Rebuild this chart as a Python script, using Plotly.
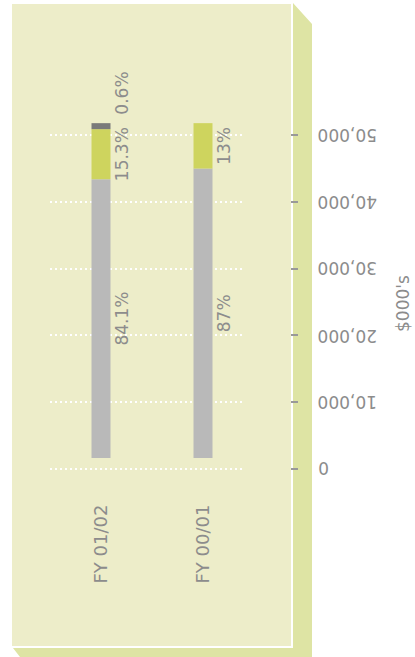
import plotly.graph_objects as go

# ---- data ----
categories = ["FY 01/02", "FY 00/01"]
baseline = 1600                      # bars start slightly above zero
other_vals = [41800, 43400]          # grey segment ($000)
green_vals = [7500, 6800]            # green segment ($000)
dark_vals = [900, 0]                 # dark segment ($000)
other_pct = ["84.1%", "87%"]
green_pct = ["15.3%", "13%"]
dark_pct = ["0.6%", ""]
tick_vals = [0, 10000, 20000, 30000, 40000, 50000]
tick_text = ["0", "10,000", "20,000", "30,000", "40,000", "50,000"]
axis_title = "$000's"

# ---- styling ----
W, H = 415, 657
L, R, T, B = 50, 290, 55, 482
PX_PER_UNIT = 333.5 / 50000.0
y0 = -2000
y1 = y0 + (B - T) / PX_PER_UNIT
FONT = "DejaVu Sans"
FS = 17
TXT = "#8c8c8c"
GREY = "#b9b9b9"
GREEN = "#ced45e"
DARK = "#7a7a7a"
PANEL = "#ededc9"
SHADOW = "#dee4a4"

def px(x):
    return (x - L) / (R - L)

def py(y):
    return (B - y) / (B - T)

bases_other = [baseline] * len(categories)
bases_green = [b + o for b, o in zip(bases_other, other_vals)]
bases_dark = [b + g for b, g in zip(bases_green, green_vals)]

fig = go.Figure()
bw = 19 / 102.0
fig.add_trace(go.Bar(x=categories, y=other_vals, base=bases_other, marker_color=GREY,
                     width=bw, marker_line_width=0, hoverinfo="skip"))
fig.add_trace(go.Bar(x=categories, y=green_vals, base=bases_green, marker_color=GREEN,
                     width=bw, marker_line_width=0, hoverinfo="skip"))
fig.add_trace(go.Bar(x=categories, y=dark_vals, base=bases_dark, marker_color=DARK,
                     width=bw, marker_line_width=0, hoverinfo="skip"))

font = dict(family=FONT, size=FS, color=TXT)
annotations = []
for i, c in enumerate(categories):
    annotations.append(dict(x=c, y=bases_other[i] + other_vals[i] / 2, text=other_pct[i],
                            textangle=-90, showarrow=False, xshift=21, font=font))
    annotations.append(dict(x=c, y=bases_green[i] + green_vals[i] / 2, text=green_pct[i],
                            textangle=-90, showarrow=False, xshift=21, font=font))
    if dark_pct[i]:
        annotations.append(dict(x=c, y=bases_dark[i] + dark_vals[i], text=dark_pct[i],
                                textangle=-90, showarrow=False, xshift=21, yshift=6,
                                yanchor="bottom", font=font))
for v, t in zip(tick_vals, tick_text):
    annotations.append(dict(x=px(316), xref="paper", y=v, yref="y", text=t, textangle=180,
                            xanchor="left", yanchor="middle", showarrow=False, font=font))
annotations.append(dict(x=px(391), xref="paper", xanchor="left", y=py(304), yref="paper",
                        text=axis_title, textangle=-90, showarrow=False, font=font))

shapes = [
    # shadow
    dict(type="path", xref="paper", yref="paper", layer="below",
         path=f"M {px(293)},{py(3)} L {px(312)},{py(24)} L {px(312)},{py(657)} "
              f"L {px(20)},{py(657)} L {px(13)},{py(648)} L {px(293)},{py(648)} Z",
         fillcolor=SHADOW, line=dict(width=0)),
    # panel
    dict(type="rect", xref="paper", yref="paper", layer="below",
         x0=px(11), x1=px(292), y0=py(647), y1=py(3),
         fillcolor=PANEL, line=dict(color="white", width=2)),
]

fig.update_layout(
    width=W, height=H, autosize=False,
    margin=dict(l=L, r=W - R, t=T, b=H - B, pad=0),
    paper_bgcolor="white", plot_bgcolor="rgba(0,0,0,0)",
    barmode="overlay", showlegend=False,
    annotations=annotations, shapes=shapes,
    xaxis=dict(domain=[0, (245 - L) / (R - L)], range=[-0.5, -0.5 + 195 / 102.0],
               showgrid=False, zeroline=False, showline=False, ticks="",
               tickangle=-90, ticklabelstandoff=18,
               tickfont=dict(family=FONT, size=18, color=TXT)),
    yaxis=dict(range=[y0, y1], anchor="free", position=1, side="right",
               tickvals=tick_vals, showticklabels=False,
               ticks="outside", ticklen=7, tickwidth=1.5, tickcolor="#999999",
               showgrid=True, gridcolor="white", gridwidth=2, griddash="2px,3px",
               zeroline=False, showline=False),
)

fig.write_html("out.html", config={"displayModeBar": False},
               post_script="document.body.style.margin='0';document.body.style.overflow='hidden';")
